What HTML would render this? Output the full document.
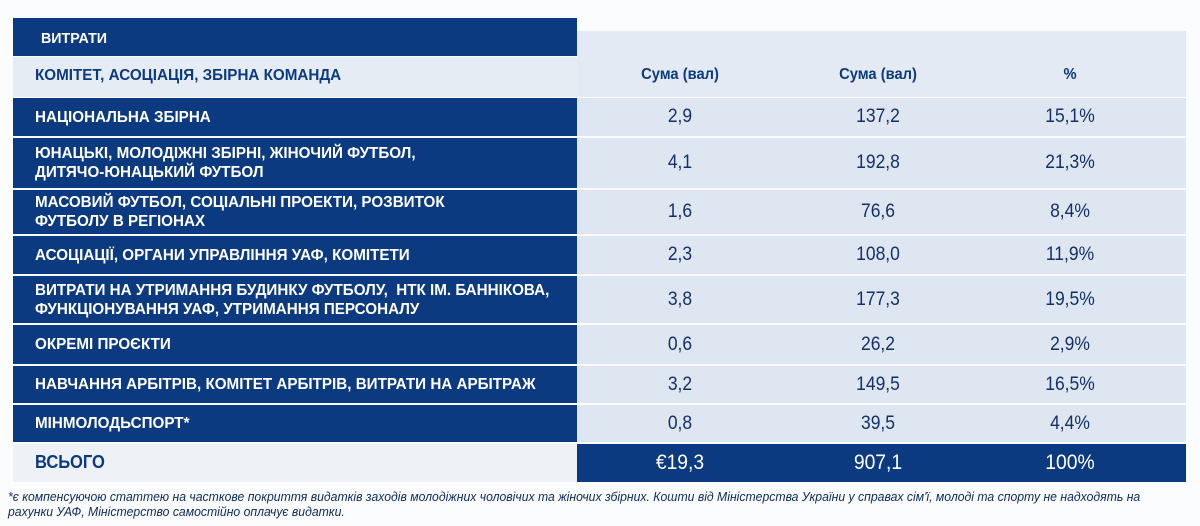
<!DOCTYPE html>
<html><head><meta charset="utf-8"><style>
body{margin:0;width:1200px;height:526px;background:#fbfcfd;position:relative;overflow:hidden;font-family:"Liberation Sans",sans-serif}
.a{position:absolute}
.L{position:absolute;left:13px;width:564px;background:#0c3a80;color:#fff;font-weight:bold;font-size:16px;display:flex;align-items:center;box-sizing:border-box;padding-left:22px}
.L span{display:inline-block;transform:scaleX(0.95);transform-origin:left center;white-space:nowrap;line-height:19px}
.R{position:absolute;left:577px;width:609px;background:#dde6f1;color:#14306b;font-size:19px}
.R div{position:absolute;top:0;bottom:0;display:flex;align-items:center;justify-content:center;width:160px;transform:scaleX(0.92)}
.c1{left:23px}.c2{left:221px}.c3{left:413px}
</style></head><body>
<div class="a" style="left:13px;top:18px;width:564px;height:38px;background:#0c3a80"></div>
<div class="a" style="left:41px;top:30px;color:#fff;font-weight:bold;font-size:15px;transform:scaleX(0.95);transform-origin:left">ВИТРАТИ</div>
<div class="a" style="left:577px;top:31px;width:609px;height:66px;background:#e3eaf3"></div>
<div class="a" style="left:13px;top:57px;width:564px;height:40px;background:#e6ecf4"></div>
<div class="a" style="left:35px;top:67px;color:#0c3a80;font-weight:bold;font-size:16px;transform:scaleX(0.95);transform-origin:left;white-space:nowrap">КОМІТЕТ, АСОЦІАЦІЯ, ЗБІРНА КОМАНДА</div>
<div class="R" style="top:55px;height:40px;background:transparent;font-weight:bold;font-size:16px;color:#0c3a80"><div class="c1">Сума (вал)</div><div class="c2">Сума (вал)</div><div class="c3">%</div></div>

<div class="L" style="top:98px;height:38px"><span>НАЦІОНАЛЬНА ЗБІРНА</span></div>
<div class="R" style="top:98px;height:38px"><div class="c1">2,9</div><div class="c2">137,2</div><div class="c3">15,1%</div></div>

<div class="L" style="top:138px;height:50px"><span>ЮНАЦЬКІ, МОЛОДІЖНІ ЗБІРНІ, ЖІНОЧИЙ ФУТБОЛ,<br>ДИТЯЧО-ЮНАЦЬКИЙ ФУТБОЛ</span></div>
<div class="R" style="top:138px;height:50px"><div class="c1">4,1</div><div class="c2">192,8</div><div class="c3">21,3%</div></div>

<div class="L" style="top:190px;height:44px"><span>МАСОВИЙ ФУТБОЛ, СОЦІАЛЬНІ ПРОЕКТИ, РОЗВИТОК<br>ФУТБОЛУ В РЕГІОНАХ</span></div>
<div class="R" style="top:190px;height:44px"><div class="c1">1,6</div><div class="c2">76,6</div><div class="c3">8,4%</div></div>

<div class="L" style="top:236px;height:38px"><span>АСОЦІАЦІЇ, ОРГАНИ УПРАВЛІННЯ УАФ, КОМІТЕТИ</span></div>
<div class="R" style="top:236px;height:38px"><div class="c1">2,3</div><div class="c2">108,0</div><div class="c3">11,9%</div></div>

<div class="L" style="top:276px;height:47px"><span>ВИТРАТИ НА УТРИМАННЯ БУДИНКУ ФУТБОЛУ,&nbsp; НТК ІМ. БАННІКОВА,<br>ФУНКЦІОНУВАННЯ УАФ, УТРИМАННЯ ПЕРСОНАЛУ</span></div>
<div class="R" style="top:276px;height:47px"><div class="c1">3,8</div><div class="c2">177,3</div><div class="c3">19,5%</div></div>

<div class="L" style="top:325px;height:39px"><span>ОКРЕМІ ПРОЄКТИ</span></div>
<div class="R" style="top:325px;height:39px"><div class="c1">0,6</div><div class="c2">26,2</div><div class="c3">2,9%</div></div>

<div class="L" style="top:366px;height:37px"><span>НАВЧАННЯ АРБІТРІВ, КОМІТЕТ АРБІТРІВ, ВИТРАТИ НА АРБІТРАЖ</span></div>
<div class="R" style="top:366px;height:37px"><div class="c1">3,2</div><div class="c2">149,5</div><div class="c3">16,5%</div></div>

<div class="L" style="top:405px;height:37px"><span>МІНМОЛОДЬСПОРТ*</span></div>
<div class="R" style="top:405px;height:37px"><div class="c1">0,8</div><div class="c2">39,5</div><div class="c3">4,4%</div></div>

<div class="a" style="left:13px;top:444px;width:564px;height:38px;background:#eef2f7"></div>
<div class="a" style="left:35px;top:452px;color:#0c3a80;font-weight:bold;font-size:18px;transform:scaleX(0.92);transform-origin:left">ВСЬОГО</div>
<div class="R" style="top:444px;height:38px;background:#0c3a80;color:#fff;font-size:21px"><div class="c1">€19,3</div><div class="c2">907,1</div><div class="c3">100%</div></div>

<div class="a" style="left:8px;top:489px;color:#0c2a5e;font-style:italic;font-size:13px;line-height:15px;transform:scaleX(0.94);transform-origin:left;white-space:nowrap">*є компенсуючою статтею на часткове покриття видатків заходів молодіжних чоловічих та жіночих збірних. Кошти від Міністерства України у справах сім'ї, молоді та спорту не надходять на<br>рахунки УАФ, Міністерство самостійно оплачує видатки.</div>
</body></html>
